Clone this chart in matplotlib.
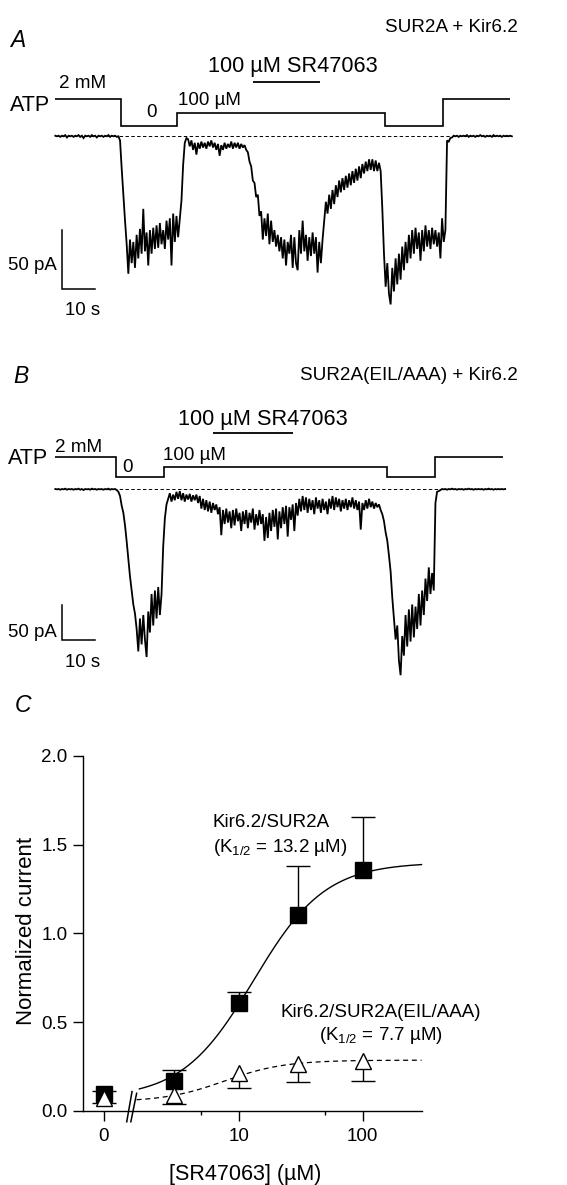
import numpy as np
import matplotlib
matplotlib.use("Agg")
import matplotlib.pyplot as plt
from matplotlib.path import Path
from matplotlib.ticker import FixedLocator, NullFormatter, FormatStrFormatter

plt.rcParams['font.family'] = ['Liberation Sans', 'DejaVu Sans']
plt.rcParams['mathtext.default'] = 'regular'

# ======================= DATA =======================
SAMPLE_DT_S = 0.5

# ---- Panel A: SUR2A + Kir6.2 current (pA), one value per 0.5 s ----
a_pre = [0, -0.5, 0, -1, 0, -0.5, 0.5, -1.5, 0, -0.5,
         0, -1, 0, -0.5, 0.5, -1, 0, -2, 0, -0.5,
         0, -1, 0.5, -0.5, 0, -1.5, 0, -0.5, 0, -1,
         0, -0.5, 0.5, -1, 0, -0.5, 0, -1, -0.5]
a_atp0_first = [-4, -28, -50, -72, -92, -117,
                -88, -108, -90, -112, -84, -104, -79, -100, -62, -98,
                -82, -110, -80, -100, -78, -96, -76, -95, -74, -92,
                -80, -96, -72, -88, -70, -110, -66, -90, -68, -86, -70]
a_atp100 = [-55, -25, -6, -2,
            -3, -9, -4, -12, -6, -16, -6, -11, -5, -10, -6, -11, -5, -9, -4, -10,
            -6, -12, -7, -17, -8, -12, -6, -11, -7, -10, -5, -11, -6, -10, -6, -11,
            -7, -10, -8, -12]
a_sr_on = [-14, -22, -26, -38, -40, -52, -50, -68, -64, -88, -70, -85, -66, -92, -72,
           -90, -80, -94, -84, -98, -86, -104, -88, -110, -90, -100, -84, -112, -86, -108,
           -114, -80, -100, -72, -98, -84, -106, -86, -102, -82, -100, -86, -116, -90, -108]
a_washout = [-88, -72, -56, -66, -50, -62, -46, -58, -42, -52,
             -38, -48, -36, -46, -34, -44, -32, -42, -30, -40, -28, -38, -26, -36, -24,
             -32, -22, -30, -20, -29, -20, -30, -21, -30, -23]
a_atp0_second = [-30, -62, -100, -128, -108, -134, -143, -112, -132,
                 -104, -126, -100, -122, -94, -114, -90, -108, -84, -104, -80, -100,
                 -78, -96, -82, -106, -80, -98, -76, -94, -80, -96, -78, -92, -80, -94,
                 -82, -104, -70, -90, -80]
a_post = [-4, -5, -2, -1.5,
          0, -0.5, 0, -1, 0, -0.5, 0, -0.5, 0.5, -1, 0, -0.5, 0, -1, 0, -0.5,
          0.5, -0.5, 0, -1, 0, -0.5, 0, -1, 0.5, -0.5, 0, -0.5, 0, -1, 0, -0.5,
          0, -0.5, 0, -0.5]
trace_a_pA = np.array(a_pre + a_atp0_first + a_atp100 + a_sr_on
                      + a_washout + a_atp0_second + a_post, dtype=float)

# ---- Panel B: SUR2A(EIL/AAA) + Kir6.2 current (pA), one value per 0.5 s ----
b_pre = [0, -0.5, 0, -1, 0, -0.5, 0.5, -1, 0, -0.5,
         0, -1, 0, -0.5, 0.5, -1, 0, -1.5, 0, -0.5,
         0, -1, 0.5, -0.5, 0, -1, 0, -0.5, 0, -1,
         0, -0.5, 0.5, -1, 0, -0.5]
b_atp0_first = [0, -1.5, -4, -10, -24, -34, -52, -75, -100, -125, -145, -165, -178,
                -200, -232, -185, -222, -180, -215, -240, -175, -205, -150, -195,
                -145, -185, -140, -180, -150]
b_atp100 = [-82, -42, -22, -14,
            -6, -18, -8, -16, -4, -14, -3, -16, -6, -18, -8, -15, -7, -18, -9, -16,
            -8, -20, -10,
            -28, -14, -30, -16, -32, -18, -34, -20, -30, -22, -36]
b_sr_on = [-26, -66, -30, -50, -28, -48, -32, -56, -30, -52, -28, -46, -34, -60, -32,
           -50, -30, -56, -34, -48, -28, -58, -36, -52, -30, -50, -36, -74, -40,
           -70, -34, -60, -30, -54, -28, -72, -32, -56, -26, -50, -24, -68, -26,
           -44, -22, -60]
b_washout = [-20, -38, -14, -32, -10, -30, -12, -34, -14, -30, -16, -36, -12, -28,
             -16, -34, -14, -30, -18, -36, -14, -28, -10, -30, -12, -26, -14, -32,
             -16, -28, -14, -30, -16, -26, -12, -28, -16, -30, -18,
             -58, -20, -30, -16, -28, -14, -26, -18, -28, -20, -26, -22, -30]
b_atp0_second = [-36, -46, -62, -74, -95, -118, -155, -185, -215, -195, -245, -266, -210,
                 -238, -180, -225, -172, -218, -165, -212, -168, -200, -150, -195,
                 -145, -180, -128, -160, -112, -150, -120, -145]
b_post = [-20, -4, -3, -1.5,
          0, -0.5, 0, -1, 0, -0.5, 0.5, -0.5, 0, -1, 0, -0.5, 0, -1, 0, -0.5,
          0.5, -0.5, 0, -1, 0, -0.5, 0, -0.5, 0, -1, 0, -0.5, 0.5, -0.5, 0, -1,
          0, -0.5, 0, -0.5, 0, -0.5, 0]
trace_b_pA = np.array(b_pre + b_atp0_first + b_atp100 + b_sr_on
                      + b_washout + b_atp0_second + b_post, dtype=float)

# ---- solution protocol (switch times in s) ----
atp_labels = ['2 mM', '0', '100 \u00b5M', '0', '2 mM']
atp_a_switch_s = [0.0, 19.7, 36.7, 99.3, 116.7, 137.0]
atp_b_switch_s = [0.0, 18.3, 32.6, 99.8, 114.4, 135.0]
sr_a_window_s = (59.4, 79.6)
sr_b_window_s = (47.6, 71.5)
trace_a_end_s = 137.5
trace_b_end_s = 135.5

# ---- Panel C: concentration-response ----
conc_uM = [0, 3, 10, 30, 100]
wt_mean = [0.094, 0.167, 0.606, 1.104, 1.357]
wt_sem = [0.019, 0.063, 0.064, 0.276, 0.298]
mut_mean = [0.074, 0.088, 0.210, 0.266, 0.283]
mut_sem = [0.032, 0.048, 0.080, 0.106, 0.113]
wt_fit = dict(bottom=0.07, top=1.40, k_half=13.2, n_hill=1.5)
mut_fit = dict(bottom=0.05, top=0.285, k_half=7.7, n_hill=1.8)
x_tick_labels = ['0', '10', '100']
y_ticks = [0.0, 0.5, 1.0, 1.5, 2.0]

# ======================= LAYOUT =======================
W, H = 567, 1185
fig = plt.figure(figsize=(W / 100, H / 100), dpi=100)
fig.patch.set_facecolor('white')

X0_PX = 55.3           # pixel column of t = 0 in panels A and B
PX_PER_S = 3.32
PT2PX = 100 / 72


def ftext(x, y, s, size, ha='left', **kw):
    """place text with the visual centre of its capitals at pixel (x, y)"""
    base = y + 0.358 * size * PT2PX
    fig.text(x / W, 1 - base / H, s, fontsize=size, ha=ha, va='baseline', **kw)


def trace_axes(top_px, bottom_px, base_px, px_per_pa):
    ax = fig.add_axes([0, 1 - bottom_px / H, 1, (bottom_px - top_px) / H])
    ax.set_xlim((0 - X0_PX) / PX_PER_S, (W - X0_PX) / PX_PER_S)
    ax.set_ylim((base_px - bottom_px) / px_per_pa, (base_px - top_px) / px_per_pa)
    ax.axis('off')
    return ax


def draw_panel(ax, trace, base_px, px_per_pa, switch_s, level_px, sr_window,
               sr_y_px, end_s, bar_corner_px):
    ypa = lambda y: (base_px - y) / px_per_pa
    t = np.arange(len(trace)) * SAMPLE_DT_S
    ax.plot(t, trace, color='black', lw=1.3, solid_joinstyle='miter', clip_on=False)
    ax.plot([0, end_s], [0, 0], color='black', lw=0.7, ls=(0, (3.5, 2.5)), clip_on=False)
    levels = [ypa(level_px[l]) for l in atp_labels]
    ax.stairs(levels, switch_s, baseline=None, color='black', lw=1.2)
    ax.plot(sr_window, [ypa(sr_y_px)] * 2, color='black', lw=1.3, solid_capstyle='butt')
    bx, by = bar_corner_px
    t0 = (bx - X0_PX) / PX_PER_S
    ax.plot([t0, t0, t0 + 10], [ypa(by) + 50, ypa(by), ypa(by)], color='black', lw=1.1,
            solid_joinstyle='miter')


# ---------------- Panel A ----------------
axa = trace_axes(60, 330, 135.7, 59 / 50)
draw_panel(axa, trace_a_pA, 135.7, 59 / 50, atp_a_switch_s,
           {'2 mM': 99.0, '100 \u00b5M': 112.7, '0': 125.7},
           sr_a_window_s, 81.7, trace_a_end_s, (62.2, 289.0))
ftext(10, 39, 'A', 16.5, style='italic')
ftext(518.3, 25, 'SUR2A + Kir6.2', 13.6, ha='right')
ftext(293.2, 64.3, '100 \u00b5M SR47063', 15.7, ha='center')
ftext(59.3, 81.7, '2 mM', 13.6)
ftext(50, 103.3, 'ATP', 15.5, ha='right')
ftext(151.7, 110, '0', 13.6, ha='center')
ftext(178.3, 98.3, '100 \u00b5M', 13.5)
ftext(56.7, 263.3, '50 pA', 13.4, ha='right')
ftext(82.5, 308.3, '10 s', 13.4, ha='center')

# ---------------- Panel B ----------------
axb = trace_axes(420, 690, 489.0, 35 / 50)
draw_panel(axb, trace_b_pA, 489.0, 35 / 50, atp_b_switch_s,
           {'2 mM': 457.0, '100 \u00b5M': 466.7, '0': 476.7},
           sr_b_window_s, 432.7, trace_b_end_s, (62.2, 640.0))
ftext(13.4, 375, 'B', 16.5, style='italic')
ftext(518.3, 373.3, 'SUR2A(EIL/AAA) + Kir6.2', 13.6, ha='right')
ftext(262.5, 417.3, '100 \u00b5M SR47063', 15.7, ha='center')
ftext(55, 445, '2 mM', 13.6)
ftext(48.3, 456.7, 'ATP', 15.5, ha='right')
ftext(127.5, 465, '0', 13.6, ha='center')
ftext(163.2, 453.3, '100 \u00b5M', 13.5)
ftext(56.7, 630, '50 pA', 13.4, ha='right')
ftext(82.5, 660, '10 s', 13.4, ha='center')

# ---------------- Panel C ----------------
C_LEFT, C_RIGHT, C_TOP, C_BOT = 83.3, 421.6, 756.0, 1110.7
axc = fig.add_axes([C_LEFT / W, 1 - C_BOT / H, (C_RIGHT - C_LEFT) / W, (C_BOT - C_TOP) / H])
axc.set_xscale('log')
axc.set_xlim(0.5575, 299.4)
axc.set_ylim(0, 2.0)
ZERO_POS = 0.818       # where the 0 uM point sits on the log axis
BREAK_POS = 1.364      # axis break
xpos = np.array([ZERO_POS if c == 0 else c for c in conc_uM], dtype=float)

for s in ('top', 'right'):
    axc.spines[s].set_visible(False)
for s in ('left', 'bottom'):
    axc.spines[s].set_linewidth(1.0)
axc.yaxis.set_major_locator(FixedLocator(y_ticks))
axc.yaxis.set_major_formatter(FormatStrFormatter('%.1f'))
axc.yaxis.set_minor_locator(FixedLocator([]))
axc.xaxis.set_major_locator(FixedLocator([ZERO_POS, 10, 100]))
axc.set_xticklabels(x_tick_labels)
axc.xaxis.set_minor_locator(FixedLocator([5, 50]))
axc.xaxis.set_minor_formatter(NullFormatter())
axc.tick_params(axis='both', which='major', length=7.5, width=1.0, labelsize=13.5)
axc.tick_params(axis='x', which='minor', length=3, width=1.0)
axc.tick_params(axis='y', pad=4)
axc.tick_params(axis='x', pad=5)


def hill(x, bottom, top, k_half, n_hill):
    return bottom + (top - bottom) / (1 + (k_half / x) ** n_hill)


xs_wt = np.logspace(np.log10(1.58), np.log10(299), 300)
xs_mut = np.logspace(np.log10(1.50), np.log10(299), 300)
axc.plot(xs_wt, hill(xs_wt, **wt_fit), color='black', lw=1.0, zorder=2, clip_on=False)
axc.plot(xs_mut, hill(xs_mut, **mut_fit), color='black', lw=0.9, ls=(0, (4, 3)),
         zorder=2, clip_on=False)

cap_ms = 16.8
wt_mean_a = np.array(wt_mean)
wt_sem_a = np.array(wt_sem)
mut_mean_a = np.array(mut_mean)
mut_sem_a = np.array(mut_sem)
# one-sided error bars: filled squares up, open triangles down
axc.vlines(xpos, wt_mean_a, wt_mean_a + wt_sem_a, color='black', lw=1.0, zorder=3)
axc.plot(xpos, wt_mean_a + wt_sem_a, ls='none', marker='_', ms=cap_ms, mew=1.0,
         color='black', zorder=3, clip_on=False)
axc.vlines(xpos, mut_mean_a - mut_sem_a, mut_mean_a, color='black', lw=1.0, zorder=3)
axc.plot(xpos, mut_mean_a - mut_sem_a, ls='none', marker='_', ms=cap_ms, mew=1.0,
         color='black', zorder=3, clip_on=False)
axc.plot(xpos, wt_mean_a, ls='none', marker='s', ms=11.2, mfc='black', mec='black',
         zorder=4, clip_on=False)
axc.plot(xpos, mut_mean_a, ls='none', marker='^', ms=12.0, mfc='white', mec='black',
         mew=1.0, zorder=5, clip_on=False)

# axis break marks "//"
brk = Path([(-4.9, -11.0), (0.65, 20.7), (-0.8, -11.0), (5.3, 19.0)],
           [Path.MOVETO, Path.LINETO, Path.MOVETO, Path.LINETO])
axc.plot([BREAK_POS], [0], ls='none', marker=brk, ms=29.8, mew=1.1, mec='black',
         mfc='none', zorder=6, clip_on=False)

ftext(14.8, 704, 'C', 16.5, style='italic')
fig.text(27 / W, 1 - 931 / H, 'Normalized current', fontsize=16, rotation=90,
         ha='center', va='center')
ftext(245.3, 1172, '[SR47063] (\u00b5M)', 15.5, ha='center')
ftext(213, 820, 'Kir6.2/SUR2A', 13.5)
ftext(213, 845, '(K$_{1/2}$ = 13.2 \u00b5M)', 13.5)
ftext(380.8, 1010, 'Kir6.2/SUR2A(EIL/AAA)', 13.5, ha='center')
ftext(380.8, 1033.3, '(K$_{1/2}$ = 7.7 \u00b5M)', 13.5, ha='center')

fig.savefig('out.png', dpi=100, facecolor='white')
